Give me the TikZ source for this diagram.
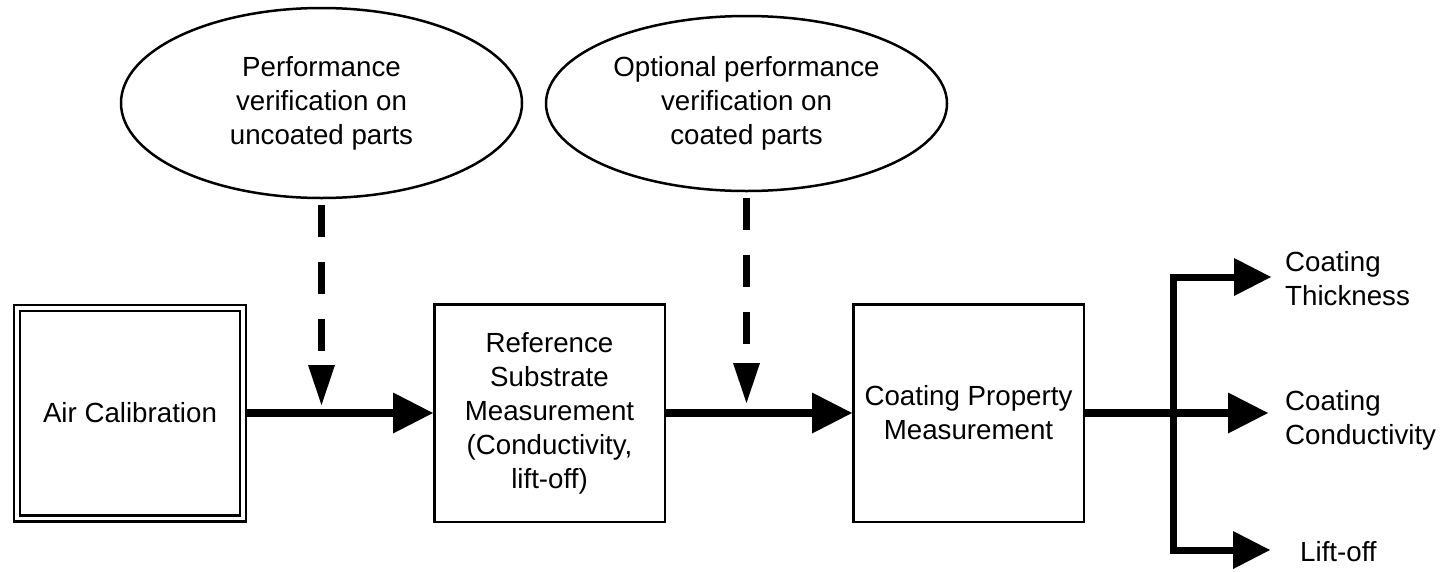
\documentclass[tikz,border=0pt]{standalone}
\usepackage{fontspec}
\setmainfont{Liberation Sans}
\usetikzlibrary{arrows.meta,shapes.geometric}

\begin{document}
\begin{tikzpicture}[x=1pt,y=-1pt,
  every node/.style={font=\fontsize{27.7}{34}\selectfont, align=center, inner sep=0pt},
  stagebox/.style={draw, line width=2.5pt, minimum width=230.5pt, minimum height=217.5pt},
  startbox/.style={draw, line width=2.5pt, double, double distance=3.5pt,
    minimum width=226pt, minimum height=210.5pt, outer sep=4.25pt},
  checkoval/.style={draw, ellipse, line width=2.5pt},
  outlabel/.style={anchor=west, align=left},
  flow/.style={line width=7.5pt, -{Triangle[length=40pt,width=41pt,line width=0pt]}},
  branch/.style={line width=7pt},
  btip/.tip={Triangle[length=37pt,width=38pt,line width=0pt]},
  verify/.style={line width=7pt, dash pattern=on 32pt off 25pt, shorten <=6pt,
    -{Triangle[length=40pt,width=27pt,line width=0pt]}}
]
\useasboundingbox (0,0) rectangle (1442,571);
\fill[white] (0,0) rectangle (1442,571);

% process stages
\node[startbox] (air) at (130,413) {Air Calibration};
\node[stagebox] (ref) at (549.5,413) {Reference\\Substrate\\Measurement\\(Conductivity,\\lift-off)};
\node[stagebox] (cpm) at (968.5,413) {Coating Property\\Measurement};

% verification steps
\node[checkoval, minimum width=401pt, minimum height=190pt] (v1) at (321.5,103)
  {Performance\\verification on\\uncoated parts};
\node[checkoval, minimum width=401pt, minimum height=175pt] (v2) at (746.5,103.5)
  {Optional performance\\verification on\\coated parts};

% outputs
\node[outlabel] (thk) at (1285,279) {Coating\\Thickness};
\node[outlabel] (cond) at (1285,420) {Coating\\Conductivity};
\node[outlabel] (lift) at (1300,552) {Lift-off};

% junction and arrow ends
\coordinate (d1) at (321.5,405);
\coordinate (d2) at (746.5,403);
\coordinate (jtop) at (1173,277);
\coordinate (jbot) at (1173,550);
\coordinate (t1) at (1271,277);
\coordinate (t2) at (1268,413);
\coordinate (t3) at (1270,550);

% main flow
\draw[flow] (air.east) -- (ref.west);
\draw[flow] (ref.east) -- (cpm.west);
\draw[flow] (cpm.east) -- (t2);
\draw[branch, btip-btip] (t1) -- (jtop) -- (jbot) -- (t3);

% verification inputs
\draw[verify] (v1.south) -- (d1);
\draw[verify] (v2.south) -- (d2);
\end{tikzpicture}
\end{document}
